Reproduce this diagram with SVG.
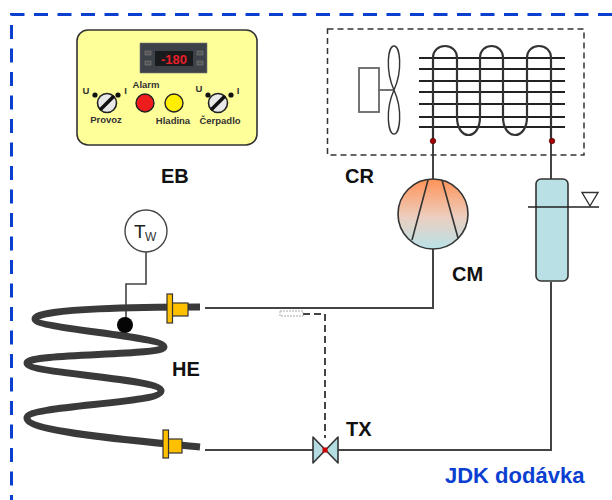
<svg xmlns="http://www.w3.org/2000/svg" width="612" height="500" viewBox="0 0 612 500">
<style>
text{font-family:"Liberation Sans",Arial,sans-serif;fill:#111}
.lbl{font-size:20px;font-weight:bold}
.sm{font-size:9.5px;font-weight:bold;fill:#333;text-anchor:middle}
.pipe{fill:none;stroke:#444;stroke-width:2}
.fin{fill:none;stroke:#222;stroke-width:2}
.tube{fill:none;stroke:#333;stroke-width:2.200}
.fit{fill:#ffc000;stroke:#333;stroke-width:1.200}
.knob{fill:#e8e8e8;stroke:#222;stroke-width:1.600}
.btn{fill:#555;stroke:#888;stroke-width:.5}
</style>
<defs>
<linearGradient id="cmg" x1="0" y1="0" x2="0" y2="1">
<stop offset="0" stop-color="#ff9257"/><stop offset=".55" stop-color="#eccfc0"/><stop offset="1" stop-color="#b8e2e8"/>
</linearGradient>
</defs>
<rect width="612" height="500" fill="#fff"/>
<path id="border" d="M612,14.500H11.500V500" fill="none" stroke="#0a3fd0" stroke-width="3" stroke-dasharray="14 9.500"/>
<g id="connectors">
<path class="pipe" d="M433,141V179M433,249V308H205"/>
<path class="pipe" d="M551,141V180M551,282V450H338M313,450H205"/>
<path d="M303,314H325V438" fill="none" stroke="#444" stroke-width="2" stroke-dasharray="7 4"/>
<rect x="280" y="311" width="23" height="5" fill="none" stroke="#aaa" stroke-width="1" stroke-dasharray="2 1"/>
<path d="M146,252V284H126V325" fill="none" stroke="#444" stroke-width="1.600"/>
</g>
<g id="EB">
<rect x="77" y="30" width="180" height="115" rx="11" fill="#ffff99" stroke="#333" stroke-width="1.600"/>
<rect x="140" y="43" width="67" height="30" fill="#3c4248" stroke="#777" stroke-width=".6"/>
<rect x="155" y="51" width="38" height="15" fill="#181a1c"/>
<text x="174" y="63.500" style="font-size:13px;font-weight:bold;fill:#e8202a;text-anchor:middle">-180</text>
<rect class="btn" x="145" y="51" width="6" height="4"/><rect class="btn" x="145" y="61" width="6" height="4"/>
<rect class="btn" x="197" y="51" width="6" height="4"/><rect class="btn" x="197" y="61" width="6" height="4"/>
<circle cx="95" cy="95" r="2.600" fill="#111"/><circle cx="118" cy="95" r="2.600" fill="#111"/>
<circle class="knob" cx="107" cy="103" r="9.500"/><path d="M100,110L114,96" stroke="#111" stroke-width="3.500"/>
<circle cx="208" cy="95" r="2.600" fill="#111"/><circle cx="231" cy="95" r="2.600" fill="#111"/>
<circle class="knob" cx="218" cy="103" r="9.500"/><path d="M211,110L225,96" stroke="#111" stroke-width="3.500"/>
<circle cx="145" cy="103" r="9" fill="#ee1c1c" stroke="#222" stroke-width="1.400"/>
<circle cx="174" cy="103" r="9" fill="#ffee00" stroke="#222" stroke-width="1.400"/>
<text class="sm" x="86" y="94">U</text><text class="sm" x="125.500" y="94">I</text>
<text class="sm" x="199" y="92">U</text><text class="sm" x="238" y="94">I</text>
<text class="sm" x="146" y="88">Alarm</text>
<text class="sm" x="106" y="123">Provoz</text>
<text class="sm" x="173" y="124">Hladina</text>
<text class="sm" x="220" y="124">Čerpadlo</text>
</g>
<g id="CR">
<rect x="327.500" y="29" width="256.500" height="126" fill="none" stroke="#333" stroke-width="1.500" stroke-dasharray="6 4"/>
<rect x="359" y="68" width="20" height="44" fill="#fff" stroke="#666" stroke-width="1.800"/>
<path d="M379,90H394" stroke="#666" stroke-width="1.800"/>
<path d="M394,90C385,70 388,46 394,46C400,46 403,70 394,90C385,110 388,134 394,134C400,134 403,110 394,90Z" fill="#fff" stroke="#333" stroke-width="1.400"/>
<path class="fin" d="M419,58H565M419,69H565M419,81H565M419,92H565M419,104H565M419,117H565M419,127H565"/>
<path class="tube" d="M433,141V58C433,42 457,42 457,58V117C457,141 480,141 480,117V58C480,42 503,42 503,58V117C503,141 527,141 527,117V58C527,42 551,42 551,58V141"/>
<circle cx="433" cy="141" r="2.800" fill="#a00000" stroke="#400" stroke-width=".6"/>
<circle cx="552" cy="141" r="2.800" fill="#a00000" stroke="#400" stroke-width=".6"/>
<text class="lbl" x="345" y="183">CR</text>
</g>
<g id="CM">
<circle cx="433" cy="214" r="35" fill="url(#cmg)" stroke="#333" stroke-width="1.600"/>
<path d="M428,180L412,240M442,180L458,238" stroke="#333" stroke-width="1.600" fill="none"/>
<text class="lbl" x="452" y="281">CM</text>
</g>
<g id="receiver">
<rect x="536" y="179" width="32" height="102" rx="5" fill="#b9e0e5" stroke="#333" stroke-width="1.600"/>
<path d="M528,207H599" stroke="#222" stroke-width="1.600"/>
<path d="M582,192.500H598L590,206Z" fill="#fff" stroke="#333" stroke-width="1.400"/>
</g>
<g id="Tw">
<circle cx="146" cy="231" r="21" fill="#fff" stroke="#444" stroke-width="1.400"/>
<text x="134" y="238" style="font-size:19px;fill:#222">T</text>
<text x="145" y="241" style="font-size:12px;fill:#333">W</text>
</g>
<g id="HE">
<path d="M200,307C150,307 35,308 35,319C35,329 164,336 164,347C164,356 27,353 27,363C27,374 161,378 161,391C161,404 27,405 27,418C27,432 130,440 200,447" fill="none" stroke="#3a3a3a" stroke-width="7"/>
<circle cx="125" cy="325" r="8" fill="#050505"/>
<rect class="fit" x="172" y="303" width="16" height="13"/>
<rect class="fit" x="167" y="294" width="5.500" height="29"/>
<rect class="fit" x="168" y="439" width="14" height="14"/>
<rect class="fit" x="163" y="430" width="5.500" height="28"/>
<text class="lbl" x="172" y="376">HE</text>
</g>
<g id="TX">
<path d="M313,437L338,463V437L313,463Z" fill="#b3dde2" stroke="#333" stroke-width="1.600" stroke-linejoin="round"/>
<rect x="322.500" y="447.500" width="5" height="5" fill="#cc0000"/>
<text class="lbl" x="346" y="436">TX</text>
</g>
<text class="lbl" x="161" y="183">EB</text>
<text x="445" y="483" style="font-size:22px;font-weight:bold;fill:#0a3fd0">JDK dodávka</text>
</svg>
